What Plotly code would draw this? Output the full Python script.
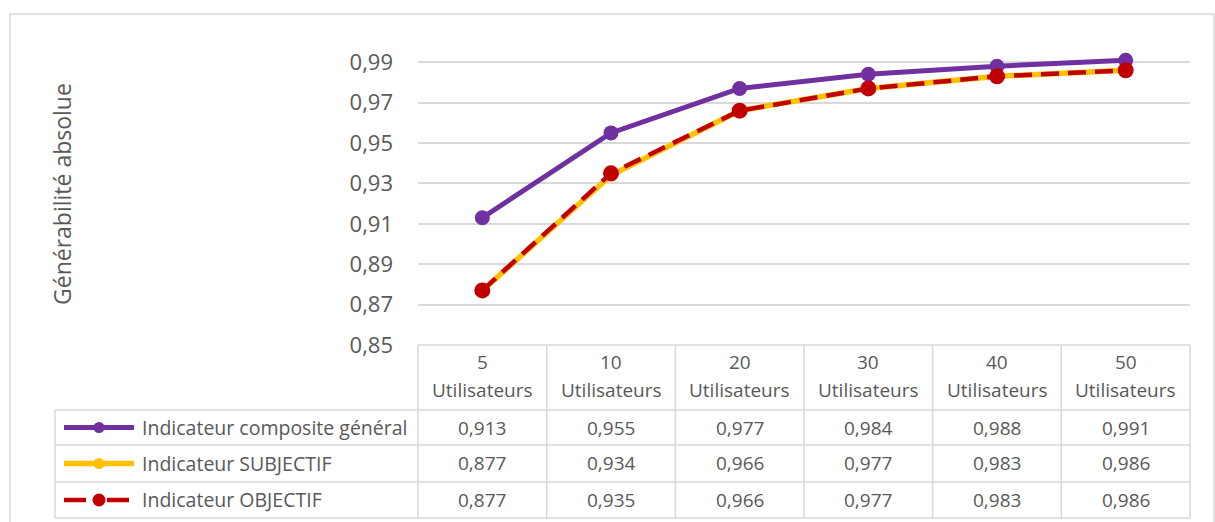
import plotly.graph_objects as go

# Sample sizes and generalisability coefficients per indicator
categories = ["5<br>Utilisateurs", "10<br>Utilisateurs", "20<br>Utilisateurs",
              "30<br>Utilisateurs", "40<br>Utilisateurs", "50<br>Utilisateurs"]
series_names = ["Indicateur composite général", "Indicateur SUBJECTIF", "Indicateur OBJECTIF"]
composite = [0.913, 0.955, 0.977, 0.984, 0.988, 0.991]
subjectif = [0.877, 0.934, 0.966, 0.977, 0.983, 0.986]
objectif = [0.877, 0.935, 0.966, 0.977, 0.983, 0.986]
y_ticks = [0.85, 0.87, 0.89, 0.91, 0.93, 0.95, 0.97, 0.99]
y_title = "Générabilité absolue"

W, H = 1215, 522
PL, PR, PT, PB = 418, 1190, 42, 345  # plot area in pixels
FONT = "Open Sans"
GREY = "#595959"
GRID = "#d9d9d9"
TABLE_FS = 19

styles = [
    dict(color="#7030A0", width=5, dash="solid", msize=15, key_r=5.5),
    dict(color="#FFC000", width=5.5, dash="solid", msize=13, key_r=5.5),
    dict(color="#C00000", width=4.5, dash="18px,9px", msize=16, key_r=6.5),
]
values = [composite, subjectif, objectif]
xs = list(range(len(categories)))

fig = go.Figure()
for name, vals, st in zip(series_names, values, styles):
    fig.add_trace(go.Scatter(
        x=xs, y=vals, name=name, mode="lines+markers",
        line=dict(color=st["color"], width=st["width"], dash=st["dash"]),
        marker=dict(color=st["color"], size=st["msize"], symbol="circle"),
        cliponaxis=False,
    ))


def px_x(p):
    return (p - PL) / (PR - PL)


def px_y(p):
    return (PB - p) / (PB - PT)


shapes = []
anns = []

# outer chart border
shapes.append(dict(type="rect", xref="paper", yref="paper",
                   x0=px_x(10), x1=px_x(1214), y0=px_y(14), y1=px_y(530),
                   line=dict(color="#d9d9d9", width=1.5), layer="below"))

# data table grid
row_lines = [410, 445, 482, 518]
col_w = (PR - PL) / len(categories)
LEFT = 55
shapes.append(dict(type="line", xref="paper", yref="paper",
                   x0=0, x1=1, y0=0, y1=0, line=dict(color=GRID, width=1.5)))
for r in row_lines:
    shapes.append(dict(type="line", xref="paper", yref="paper",
                       x0=px_x(LEFT), x1=1, y0=px_y(r), y1=px_y(r),
                       line=dict(color=GRID, width=1.5)))
for i in range(len(categories) + 1):
    xp = PL + i * col_w
    shapes.append(dict(type="line", xref="paper", yref="paper",
                       x0=px_x(xp), x1=px_x(xp), y0=0, y1=px_y(518),
                       line=dict(color=GRID, width=1.5)))
shapes.append(dict(type="line", xref="paper", yref="paper",
                   x0=px_x(LEFT), x1=px_x(LEFT), y0=px_y(410), y1=px_y(518),
                   line=dict(color=GRID, width=1.5)))

# header labels, one text line at a time
for i, c in enumerate(categories):
    for line_y, part in zip([362, 390], c.split("<br>")):
        anns.append(dict(x=i, xref="x", y=px_y(line_y), yref="paper", text=part,
                         showarrow=False,
                         font=dict(family=FONT, size=TABLE_FS, color=GREY),
                         xanchor="center", yanchor="middle"))

# value cells and legend keys
row_centers = [427.5, 463.5, 500]
for rc, name, vals, st in zip(row_centers, series_names, values, styles):
    for i, v in enumerate(vals):
        anns.append(dict(x=i, xref="x", y=px_y(rc), yref="paper",
                         text=f"{v:.3f}".replace(".", ","), showarrow=False,
                         font=dict(family=FONT, size=TABLE_FS, color=GREY),
                         xanchor="center", yanchor="middle"))
    if st["dash"] == "solid":
        segments = [(64, 134)]
    else:
        segments = [(64, 86), (107, 129)]
    for a, b in segments:
        shapes.append(dict(type="line", xref="paper", yref="paper",
                           x0=px_x(a), x1=px_x(b), y0=px_y(rc), y1=px_y(rc),
                           line=dict(color=st["color"], width=st["width"])))
    r = st["key_r"]
    shapes.append(dict(type="circle", xref="paper", yref="paper",
                       x0=px_x(99 - r), x1=px_x(99 + r),
                       y0=px_y(rc - r), y1=px_y(rc + r),
                       fillcolor=st["color"], line=dict(width=0)))
    anns.append(dict(x=px_x(140), xref="paper", y=px_y(rc), yref="paper",
                     text=name, showarrow=False,
                     font=dict(family=FONT, size=TABLE_FS + 0.5, color=GREY),
                     xanchor="left", yanchor="middle"))

# axis title
anns.append(dict(x=px_x(62), xref="paper", y=px_y(194), yref="paper",
                 text=y_title, textangle=-90, showarrow=False,
                 font=dict(family=FONT, size=23, color=GREY),
                 xanchor="center", yanchor="middle"))

fig.update_layout(
    width=W, height=H,
    margin=dict(l=PL, r=W - PR, t=PT, b=H - PB, pad=0),
    paper_bgcolor="white", plot_bgcolor="white",
    showlegend=False,
    separators=", ",
    font=dict(family=FONT, color=GREY),
    xaxis=dict(range=[-0.5, len(categories) - 0.5], showticklabels=False,
               showgrid=False, zeroline=False, showline=False, fixedrange=True),
    yaxis=dict(range=[0.85, 1.0], tickvals=y_ticks,
               ticktext=[f"{t:.2f}".replace(".", ",") for t in y_ticks],
               showgrid=True, gridcolor=GRID, gridwidth=1.5, zeroline=False,
               showline=False, ticks="", ticklabelstandoff=24,
               tickfont=dict(family=FONT, size=22, color=GREY)),
    shapes=shapes, annotations=anns,
)

fig.write_html("out.html")
